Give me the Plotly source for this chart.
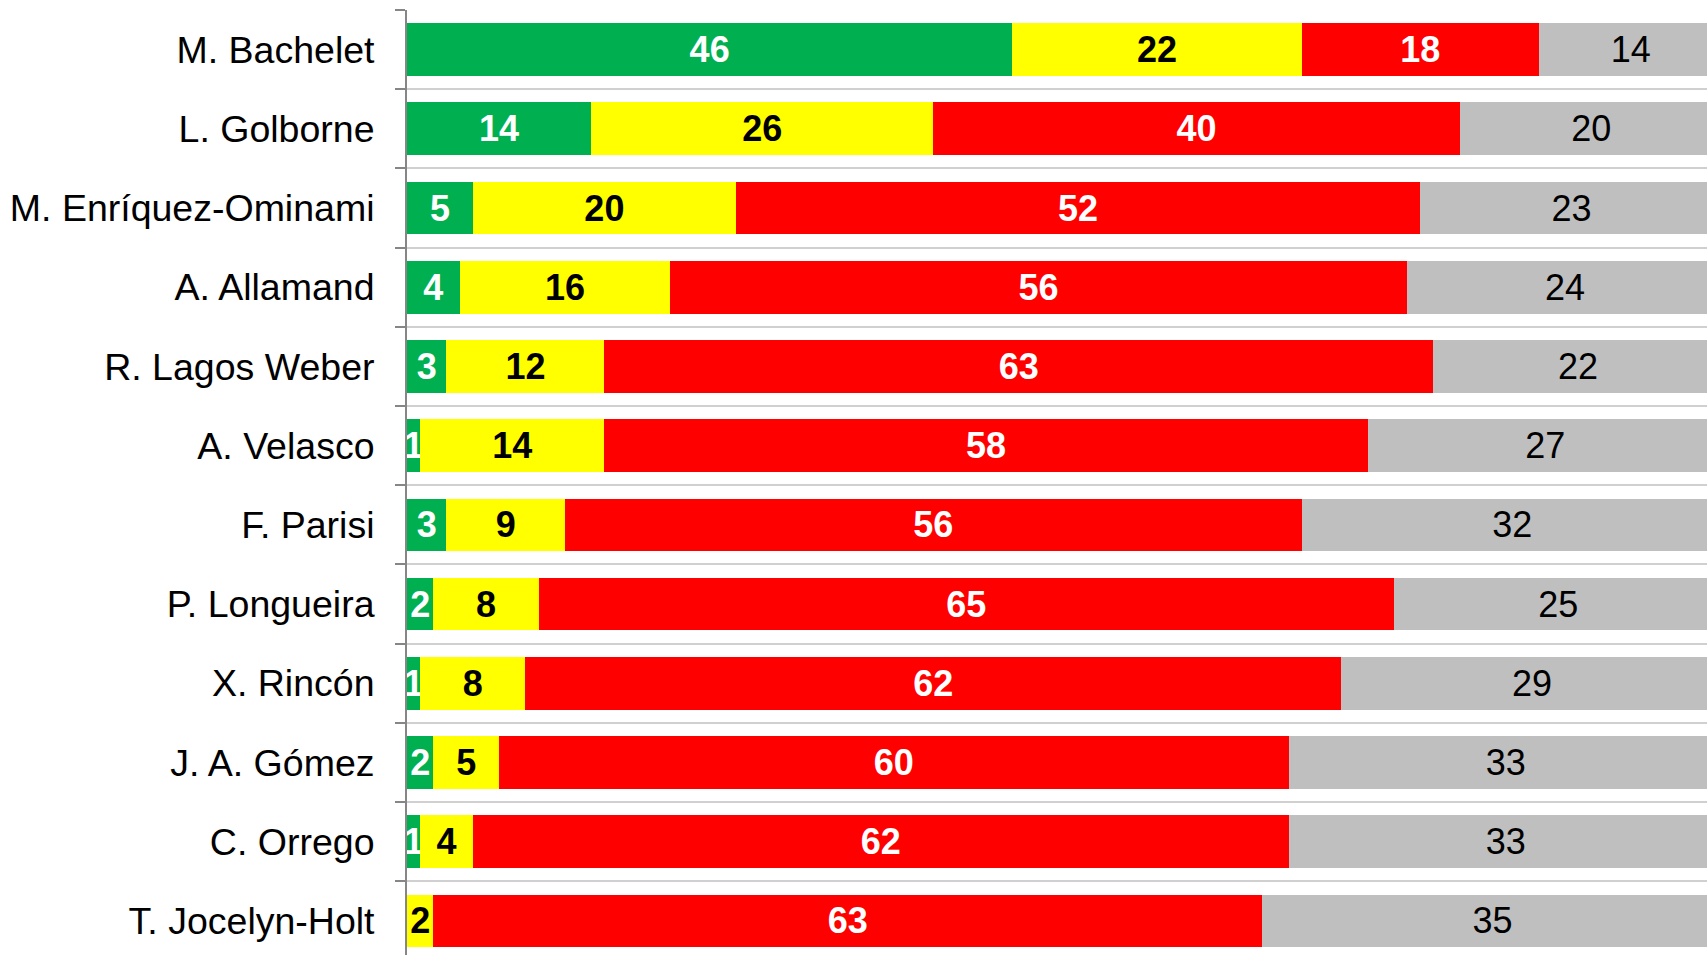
import plotly.graph_objects as go

# Candidates, top to bottom
candidates = [
    "M. Bachelet", "L. Golborne", "M. Enríquez-Ominami", "A. Allamand",
    "R. Lagos Weber", "A. Velasco", "F. Parisi", "P. Longueira",
    "X. Rincón", "J. A. Gómez", "C. Orrego", "T. Jocelyn-Holt",
]

# Evaluation shares (%) per candidate
positiva = [46, 14, 5, 4, 3, 1, 3, 2, 1, 2, 1, 0]
regular = [22, 26, 20, 16, 12, 14, 9, 8, 8, 5, 4, 2]
negativa = [18, 40, 52, 56, 63, 58, 56, 65, 62, 60, 62, 63]
nsnr = [14, 20, 23, 24, 22, 27, 32, 25, 29, 33, 33, 35]

FONT = "Liberation Sans, Arial, sans-serif"

series = [
    ("Positiva", positiva, "#00B050", "white", True),
    ("Regular", regular, "#FFFF00", "black", True),
    ("Negativa", negativa, "#FF0000", "white", True),
    ("NS/NR", nsnr, "#BFBFBF", "black", False),
]

fig = go.Figure()
for name, vals, color, tcolor, bold in series:
    fig.add_trace(go.Bar(
        name=name,
        y=candidates,
        x=vals,
        orientation="h",
        marker=dict(color=color, line=dict(width=0)),
        text=[str(v) if v > 0 else "" for v in vals],
        textposition="inside",
        insidetextanchor="middle",
        textangle=0,
        textfont=dict(family=FONT, size=36, color=tcolor,
                      weight="bold" if bold else "normal"),
        cliponaxis=True,
    ))

fig.update_layout(
    width=1707,
    height=955,
    barmode="stack",
    bargap=0.335,
    showlegend=False,
    plot_bgcolor="white",
    paper_bgcolor="white",
    margin=dict(l=407, r=0, t=10, b=0),
    uniformtext=dict(minsize=36, mode="show"),
    font=dict(family=FONT),
)

fig.update_xaxes(
    range=[0, 98.8],
    showgrid=False,
    zeroline=False,
    showticklabels=False,
    ticks="",
    showline=False,
)

fig.update_yaxes(
    type="category",
    categoryorder="array",
    categoryarray=candidates,
    range=[11.43, -0.5],
    tickson="boundaries",
    ticks="outside",
    ticklen=10,
    tickwidth=2,
    tickcolor="#868686",
    showline=True,
    linecolor="#868686",
    linewidth=2,
    showgrid=True,
    gridcolor="#D0D0D0",
    gridwidth=1.5,
    tickfont=dict(family=FONT, size=37.5, color="black"),
    ticklabelstandoff=23,
)

fig.write_html("out.html")
